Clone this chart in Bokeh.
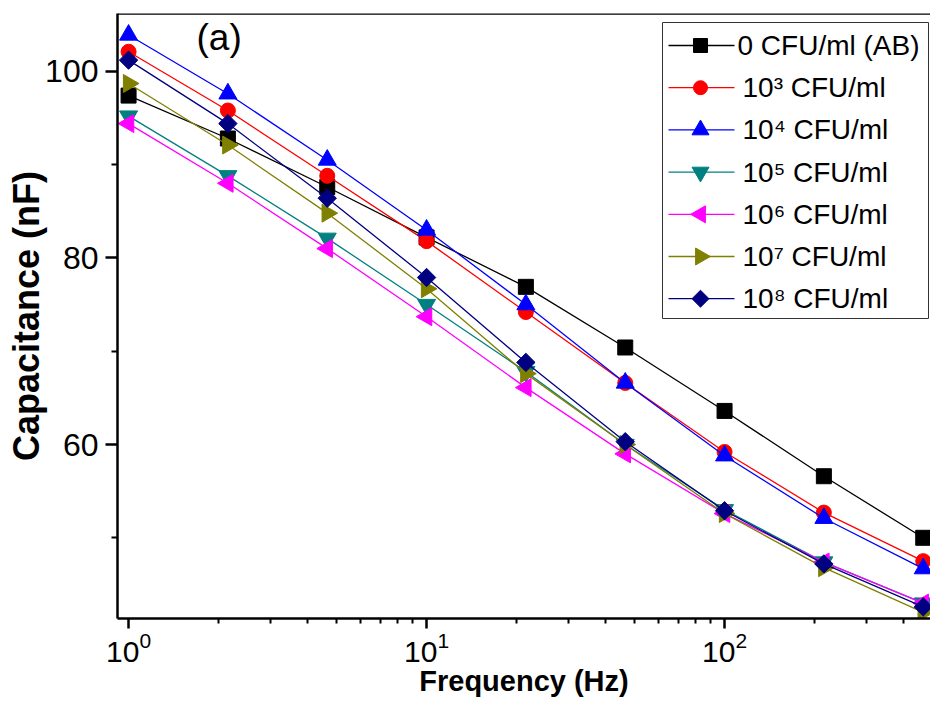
import math
from bokeh.plotting import figure
from bokeh.models import FixedTicker, Label, Span, Range1d, LinearScale
from bokeh.core.properties import value
from bokeh.embed import file_html
from bokeh.resources import INLINE

freq = [1.0, 2.154, 4.642, 10.0, 21.54, 46.42, 100.0, 215.4, 464.2]

series_labels = ["0 CFU/ml (AB)", "10\u00b3 CFU/ml", "10\u2074 CFU/ml", "10\u2075 CFU/ml",
                 "10\u2076 CFU/ml", "10\u2077 CFU/ml", "10\u2078 CFU/ml"]

cap_0 = [97.4, 92.8, 87.6, 82.2, 76.9, 70.4, 63.6, 56.6, 50.0]
cap_3 = [102.1, 95.8, 88.8, 81.8, 74.2, 66.6, 59.2, 52.7, 47.5]
cap_4 = [103.9, 97.6, 90.5, 83.0, 75.0, 66.6, 58.8, 52.1, 46.7]
cap_5 = [95.2, 88.8, 82.1, 75.0, 67.8, 60.0, 53.0, 47.4, 43.0]
cap_6 = [94.4, 88.0, 81.0, 73.7, 66.1, 59.0, 52.6, 47.4, 43.0]
cap_7 = [98.7, 92.1, 84.8, 76.7, 67.6, 60.0, 52.6, 46.8, 42.0]
cap_8 = [101.2, 94.4, 86.4, 77.9, 68.8, 60.3, 52.9, 47.2, 42.6]

series_values = [cap_0, cap_3, cap_4, cap_5, cap_6, cap_7, cap_8]
colors = ["#000000", "#FF0000", "#0000FF", "#008080", "#FF00FF", "#808000", "#000080"]
markers = ["square", "circle", "triangle", "inverted_triangle", "triangle", "triangle", "square"]
angles = [0, 0, 0, 0, math.pi / 2, -math.pi / 2, math.pi / 4]
sizes = [15, 15, 18, 18, 18, 18, 13]

FONT = "Liberation Sans"

W, H = 930, 723
p = figure(width=W, height=H, x_axis_type="log",
           x_range=(0.918, 491), y_range=(41.35, 106.2),
           output_backend="svg", toolbar_location=None,
           min_border_left=117, min_border_top=13, min_border_bottom=H - 618, min_border_right=0)
p.outline_line_color = None
p.grid.visible = False
p.background_fill_color = "white"
p.border_fill_color = "white"

# pixel-like layout space for the legend (canvas pixels, y downward)
p.extra_x_ranges = {"px": Range1d(117, W)}
p.extra_y_ranges = {"py": Range1d(618, 13)}
p.extra_x_scales = {"px": LinearScale()}
p.extra_y_scales = {"py": LinearScale()}

# top frame line
p.add_layout(Span(location=106.2, dimension="width", line_color="black", line_width=2.5))

for vals, col, mk, ang, sz in zip(series_values, colors, markers, angles, sizes):
    p.line(freq, vals, line_color=col, line_width=1.3)
    p.scatter(freq, vals, marker=mk, angle=ang, size=sz, fill_color=col, line_color=col)

# axes
xa = p.xaxis[0]
xa.ticker = FixedTicker(ticks=[1, 10, 100],
                        minor_ticks=[2, 3, 4, 5, 6, 7, 8, 9, 20, 30, 40, 50, 60, 70, 80, 90, 200, 300, 400])
xa.axis_label = "Frequency (Hz)"
ya = p.yaxis[0]
ya.ticker = FixedTicker(ticks=[60, 80, 100], minor_ticks=[50, 70, 90])
ya.axis_label = "Capacitance (nF)"

for ax in (xa, ya):
    ax.axis_line_width = 2.5
    ax.axis_line_color = "black"
    ax.major_tick_line_width = 2.5
    ax.minor_tick_line_width = 2
    ax.major_tick_in = 0
    ax.minor_tick_in = 0
    ax.major_label_text_font = FONT
    ax.major_label_text_color = "black"
    ax.axis_label_text_font = FONT
    ax.axis_label_text_font_style = "bold"
    ax.axis_label_text_color = "black"

xa.major_tick_out = 10
xa.minor_tick_out = 5
xa.major_label_standoff = 3
xa.major_label_text_font_size = "30px"
xa.axis_label_text_font_size = "29px"
xa.axis_label_standoff = 0

ya.major_tick_out = 12
ya.minor_tick_out = 6
ya.major_label_standoff = 7
ya.major_label_text_font_size = "32px"
ya.axis_label_text_font_size = "36px"
ya.axis_label_standoff = -5

# legend (drawn manually so that rotated markers are shown correctly)
box_l, box_r, box_t, box_b = 662, 928, 22, 318
row_y0, row_dy = 45, 42.2
line_x0, line_x1, mark_x, text_x = 668, 734, 700, 741

p.quad(left=[box_l], right=[box_r], top=[box_t], bottom=[box_b],
       fill_color="white", line_color="#333333", line_width=1,
       x_range_name="px", y_range_name="py")

rows_y = [row_y0 + i * row_dy for i in range(len(series_labels))]
p.segment(x0=[line_x0] * len(rows_y), x1=[line_x1] * len(rows_y), y0=rows_y, y1=rows_y,
          line_color=colors, line_width=1.3, x_range_name="px", y_range_name="py")
for ry, col, mk, ang, sz in zip(rows_y, colors, markers, angles, sizes):
    p.scatter([mark_x], [ry], marker=mk, angle=ang, size=sz - 1, fill_color=col, line_color=col,
              x_range_name="px", y_range_name="py")
text_xs = [text_x - 4] + [text_x + 1] * (len(series_labels) - 1)
p.text(x=text_xs, y=rows_y, text=series_labels, text_font=value(FONT), text_font_size="28px",
       text_color="black", text_align="left", text_baseline="middle",
       x_range_name="px", y_range_name="py")

p.add_layout(Label(x=79, y=602, x_units="screen", y_units="screen", text="(a)",
                   text_align="left", text_baseline="top",
                   text_font=FONT, text_font_size="37px", text_color="black"))

open("out.html", "w").write(file_html(p, INLINE))
